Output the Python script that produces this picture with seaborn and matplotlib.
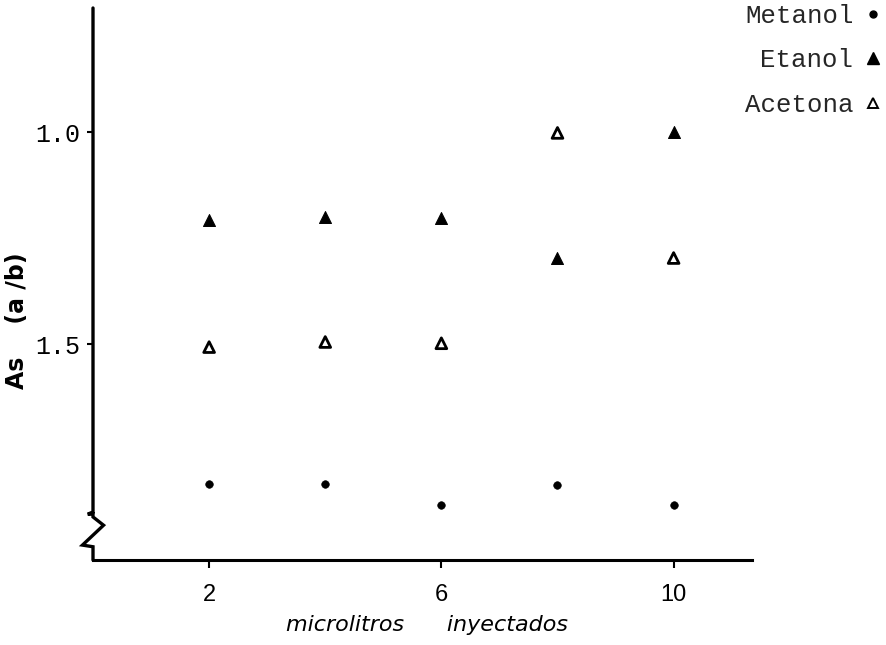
import matplotlib
matplotlib.use("Agg")
import matplotlib.pyplot as plt
import seaborn as sns
import pandas as pd
from matplotlib.lines import Line2D

microlitros = [2, 4, 6, 8, 10]
metanol = [1.83, 1.83, 1.88, 1.832, 1.88]
etanol = [1.207, 1.20, 1.203, 1.297, 1.0]
acetona = [1.507, 1.495, 1.498, 1.002, 1.297]
series_names = ["Metanol", "Etanol", "Acetona"]
x_ticks = [2, 6, 10]
y_ticks = [1.0, 1.5]

sns.set_theme(style="white")
plt.rcParams['font.family'] = ['DejaVu Sans']

fig = plt.figure(figsize=(8.86, 6.45), dpi=100)
ax = fig.add_axes([93 / 886, 1 - 560 / 645, 659 / 886, 552 / 645])

df = pd.DataFrame({"x": microlitros * 3,
                   "y": metanol + etanol + acetona,
                   "serie": [s for s in series_names for _ in microlitros]})

sns.scatterplot(data=df[df.serie == "Metanol"], x="x", y="y", marker="o",
                s=30, color="black", edgecolor="black", ax=ax, legend=False)
sns.scatterplot(data=df[df.serie == "Etanol"], x="x", y="y", marker="^",
                s=75, color="black", edgecolor="black", ax=ax, legend=False)
sns.scatterplot(data=df[df.serie == "Acetona"], x="x", y="y", marker="^",
                s=60, facecolor="none", edgecolor="black", linewidth=2, ax=ax, legend=False)

ax.set_xlim(0.0, 11.35)
ax.set_ylim(2.009, 0.7075)
ax.set_xticks(x_ticks)
ax.set_yticks(y_ticks)
ax.tick_params(axis="x", direction="out", length=6, width=1.5, color="black",
               bottom=True, pad=11, labelsize=17, labelcolor="black")
ax.tick_params(axis="y", direction="out", length=4.5, width=1.5, color="black",
               left=True, pad=5, labelsize=18, labelcolor="black")
ax.set_xticklabels([str(v) for v in x_ticks], family="Liberation Sans", fontsize=17)
ax.set_yticklabels([f"{v:.1f}" for v in y_ticks], family="Liberation Mono", fontsize=18)

for s in ["top", "right", "left"]:
    ax.spines[s].set_visible(False)
ax.spines["bottom"].set_color("black")
ax.spines["bottom"].set_linewidth(2.2)

# left axis with break symbol
bx = [0.0, 0.0, -0.008, 0.0, 0.0, 0.016, -0.016, 0.0, 0.0]
by = [1.0, 0.087, 0.083, 0.083, 0.078, 0.063, 0.027, 0.024, 0.0]
ax.plot(bx, by, color="black", lw=2.4, transform=ax.transAxes, clip_on=False,
        solid_joinstyle="miter")

ax.set_xlabel("microlitros      inyectados", fontsize=16, style="italic", color="black")
ax.xaxis.set_label_coords(0.507, -0.1)
ax.set_ylabel("As    (a /b)", fontsize=17, fontweight="bold", color="black")
ax.yaxis.set_label_coords(-0.097, 0.433)

handles = [
    Line2D([], [], ls="none", marker="o", ms=5, color="black"),
    Line2D([], [], ls="none", marker="^", ms=9, color="black"),
    Line2D([], [], ls="none", marker="^", ms=7.5, mfc="none", mec="black", mew=1.4),
]
fig.legend(handles, series_names, loc="upper left", bbox_to_anchor=(745 / 886, 0.994),
           frameon=False, markerfirst=False, handletextpad=0.35, handlelength=0.8,
           labelspacing=0.8, borderpad=0, borderaxespad=0,
           prop={"family": "Liberation Mono", "size": 18.5})

fig.savefig("out.png", dpi=100)
